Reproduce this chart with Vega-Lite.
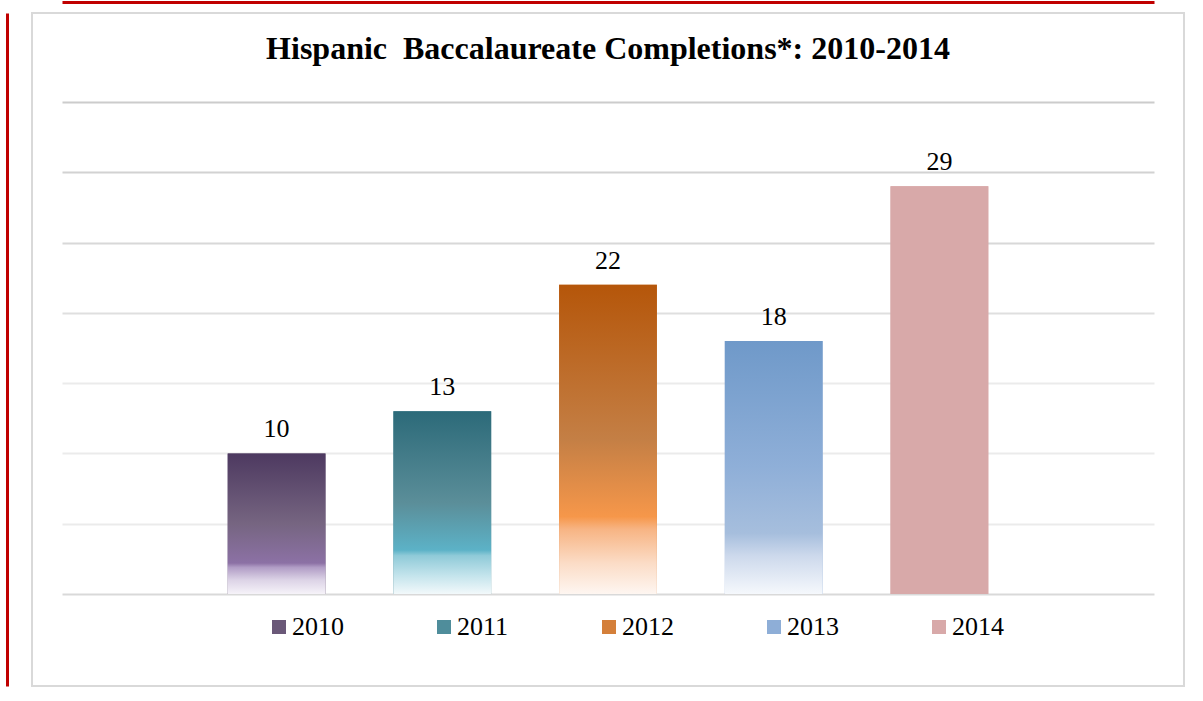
{
  "$schema": "https://vega.github.io/schema/vega-lite/v6.json",
  "width": 1152,
  "height": 673,
  "autosize": {"type": "none"},
  "padding": {"left": 32, "top": 13, "right": 19, "bottom": 15},
  "background": "white",
  "config": {"view": {"stroke": "#d9d9d9", "strokeWidth": 2}, "font": "Liberation Serif"},
  "title": {
    "text": "Hispanic\u00a0 Baccalaureate Completions*: 2010-2014",
    "font": "Liberation Serif",
    "fontSize": 32,
    "fontWeight": "bold",
    "color": "#000000",
    "anchor": "middle",
    "frame": "group",
    "offset": -64
  },
  "data": {
    "values": [
      {"year": "2010", "value": 10},
      {"year": "2011", "value": 13},
      {"year": "2012", "value": 22},
      {"year": "2013", "value": 18},
      {"year": "2014", "value": 29}
    ]
  },
  "encoding": {
    "x": {
      "field": "year",
      "type": "nominal",
      "sort": null,
      "scale": {"range": [30, 1122], "paddingInner": 0.41, "paddingOuter": 1},
      "axis": {"orient": "top", "title": null, "labels": false, "ticks": false, "grid": false, "domainColor": "#c00000", "domainWidth": 3, "offset": 11}
    },
    "y": {
      "field": "value",
      "type": "quantitative",
      "scale": {"domain": [-6.545, 41.33], "nice": false, "zero": false},
      "axis": {
        "title": null,
        "labels": false,
        "ticks": false,
        "values": [0, 5, 10, 15, 20, 25, 30, 35],
        "grid": true,
        "gridWidth": 2,
        "gridColor": {
          "condition": [
            {"test": "datum.value === 0", "value": "#d9d9d9"},
            {"test": "datum.value === 35", "value": "#cccccc"},
            {"test": "datum.value === 30", "value": "#d2d2d2"},
            {"test": "datum.value === 25", "value": "#d8d8d8"},
            {"test": "datum.value === 20", "value": "#dfdfdf"}
          ],
          "value": "#ebebeb"
        },
        "domainColor": "#c00000",
        "domainWidth": 3,
        "offset": 25
      }
    }
  },
  "layer": [
    {
      "mark": {"type": "bar"},
      "encoding": {
        "color": {
          "field": "year",
          "type": "nominal",
          "sort": null,
          "scale": {
            "domain": ["2010", "2011", "2012", "2013", "2014"],
            "range": ["#6a5878", "#4f8d9b", "#d47f3a", "#8eaed7", "#d8a9a9"]
          },
          "legend": {
            "orient": "none",
            "legendX": 234,
            "legendY": 601,
            "direction": "horizontal",
            "columns": 5,
            "columnPadding": 87,
            "title": null,
            "symbolType": "square",
            "symbolSize": 196,
            "symbolStrokeWidth": 0,
            "symbolOpacity": 1,
            "labelFont": "Liberation Serif",
            "labelFontSize": 26,
            "labelColor": "#000000",
            "labelOffset": 0,
            "padding": 0,
            "encode": {
              "symbols": {
                "update": {
                  "fill": [
                    {"test": "datum.value === '2010'", "value": {"gradient": "linear", "x1": 0, "y1": 0, "x2": 0, "y2": 1, "stops": [{"offset": 0, "color": "#4d3960"}, {"offset": 0.75, "color": "#8c71a5"}, {"offset": 1, "color": "#f6f3f9"}]}},
                    {"test": "datum.value === '2011'", "value": {"gradient": "linear", "x1": 0, "y1": 0, "x2": 0, "y2": 1, "stops": [{"offset": 0, "color": "#2c6a79"}, {"offset": 0.72, "color": "#5cb2c7"}, {"offset": 1, "color": "#f2f9fb"}]}},
                    {"test": "datum.value === '2012'", "value": {"gradient": "linear", "x1": 0, "y1": 0, "x2": 0, "y2": 1, "stops": [{"offset": 0, "color": "#b5560a"}, {"offset": 0.72, "color": "#f6974a"}, {"offset": 1, "color": "#fef6f1"}]}},
                    {"test": "datum.value === '2013'", "value": {"gradient": "linear", "x1": 0, "y1": 0, "x2": 0, "y2": 1, "stops": [{"offset": 0, "color": "#6f99c9"}, {"offset": 0.72, "color": "#a6bedd"}, {"offset": 1, "color": "#f5f8fc"}]}},
                    {"value": "#d8a9a9"}
                  ]
                }
              }
            }
          }
        }
      }
    },
    {
      "mark": {"type": "bar"},
      "encoding": {
        "fill": {
          "condition": [
            {"test": "datum.year === '2010'", "value": {"gradient": "linear", "x1": 0, "y1": 0, "x2": 0, "y2": 1, "stops": [
              {"offset": 0, "color": "#4d3960"},
              {"offset": 0.5, "color": "#766581"},
              {"offset": 0.78, "color": "#8c71a5"},
              {"offset": 0.81, "color": "#b09cc5"},
              {"offset": 0.9, "color": "#dcd3e6"},
              {"offset": 1, "color": "#f6f3f9"}]}},
            {"test": "datum.year === '2011'", "value": {"gradient": "linear", "x1": 0, "y1": 0, "x2": 0, "y2": 1, "stops": [
              {"offset": 0, "color": "#2c6a79"},
              {"offset": 0.5, "color": "#5b8e99"},
              {"offset": 0.76, "color": "#5cb2c7"},
              {"offset": 0.79, "color": "#8fcad8"},
              {"offset": 0.9, "color": "#c4e4ec"},
              {"offset": 1, "color": "#f2f9fb"}]}},
            {"test": "datum.year === '2012'", "value": {"gradient": "linear", "x1": 0, "y1": 0, "x2": 0, "y2": 1, "stops": [
              {"offset": 0, "color": "#b5560a"},
              {"offset": 0.5, "color": "#c47f45"},
              {"offset": 0.75, "color": "#f6974a"},
              {"offset": 0.79, "color": "#f7b483"},
              {"offset": 0.9, "color": "#fbdcc6"},
              {"offset": 1, "color": "#fef6f1"}]}},
            {"test": "datum.year === '2013'", "value": {"gradient": "linear", "x1": 0, "y1": 0, "x2": 0, "y2": 1, "stops": [
              {"offset": 0, "color": "#6f99c9"},
              {"offset": 0.5, "color": "#8fafd8"},
              {"offset": 0.76, "color": "#a6bedd"},
              {"offset": 0.85, "color": "#cdd9ec"},
              {"offset": 1, "color": "#f5f8fc"}]}}
          ],
          "value": "#d8a9a9"
        }
      }
    },
    {
      "mark": {"type": "text", "dy": -16, "baseline": "alphabetic", "fontSize": 26, "font": "Liberation Serif", "color": "#000000"},
      "encoding": {"text": {"field": "value", "type": "quantitative"}}
    }
  ]
}
